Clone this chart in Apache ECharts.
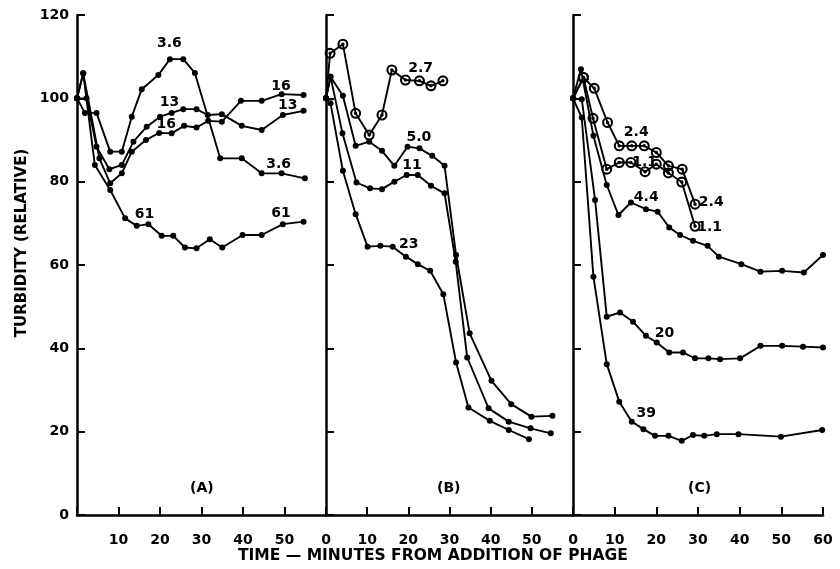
<!DOCTYPE html>
<html>
<head>
<meta charset="utf-8">
<script src="https://cdn.jsdelivr.net/npm/echarts@6/dist/echarts.min.js"></script>
<style>
    html, body { margin: 0; padding: 0; background: #fff; }
    #chart { width: 840px; height: 569px; }
</style>
</head>
<body>
<div id="chart"></div>
<script>
// 数据 [分钟, 浊度]
// (A)
const a36 = [[0,100],[1.9,96.5],[4.7,96.5],[8,87.2],[10.8,87.2],[13.2,95.6],[15.6,102.2],[19.6,105.6],[22.4,109.4],[25.6,109.4],[28.4,106.1],[34.5,85.6],[39.7,85.6],[44.5,82],[49.3,82],[54.9,80.8]];
const a13 = [[0,100],[2.3,100],[4.7,88.4],[7.8,83],[10.8,84],[13.6,89.6],[16.8,93.2],[20,95.6],[22.8,96.5],[25.6,97.4],[28.8,97.4],[31.5,96],[34.9,96.2],[39.7,93.4],[44.5,92.4],[49.6,96],[54.6,97]];
const a16 = [[0,100],[1.5,106],[5.4,85.6],[8,79.6],[10.8,82],[13.2,87.2],[16.6,90],[19.8,91.7],[22.8,91.6],[25.8,93.4],[28.8,93],[31.6,94.6],[34.9,94.4],[39.5,99.4],[44.5,99.4],[49.3,101],[54.6,100.8]];
const a61 = [[0,100],[1.5,106],[4.3,84],[8,78],[11.6,71.2],[14.4,69.4],[17.2,69.8],[20.4,67],[23.2,67],[26,64.2],[28.8,64],[32,66.2],[35,64.2],[39.9,67.2],[44.5,67.2],[49.6,69.8],[54.6,70.4]];
// (B)
const b27 = [[0,100],[1,110.8],[4.1,113],[7.2,96.4],[10.5,91.2],[13.6,96],[16,106.8],[19.3,104.4],[22.7,104.2],[25.5,103],[28.4,104.2]];
const b50 = [[0,100],[1.1,105.2],[4.1,100.6],[7.2,88.6],[10.5,89.6],[13.6,87.4],[16.6,83.8],[19.8,88.4],[22.7,88],[25.8,86.2],[28.8,83.8],[31.6,62.4],[34.9,43.6],[40.2,32.2],[45,26.6],[49.9,23.6],[55,23.8]];
const b11 = [[0,100],[1.1,105.2],[4,91.6],[7.4,79.8],[10.7,78.4],[13.6,78.2],[16.6,80],[19.6,81.6],[22.3,81.6],[25.5,79],[28.8,77.2],[31.5,60.8],[34.3,37.8],[39.5,25.6],[44.4,22.4],[49.7,20.8],[54.6,19.6]];
const b23 = [[0,100],[1.1,98.8],[4.1,82.6],[7.2,72.2],[10.1,64.4],[13.2,64.6],[16.2,64.4],[19.4,62],[22.3,60.2],[25.3,58.6],[28.5,53],[31.6,36.6],[34.6,25.8],[39.8,22.6],[44.4,20.4],[49.3,18.2]];
// (C)
const c24 = [[0,100],[2.5,105],[5.1,102.4],[8.3,94.2],[11.1,88.6],[14.1,88.6],[17.1,88.6],[20,87],[22.9,83.8],[26.2,83],[29.3,74.6]];
const c11 = [[0,100],[2.5,105],[4.8,95.2],[8.1,83],[11.1,84.6],[13.9,84.6],[17.3,82.4],[20,84.2],[22.9,82.1],[26.1,79.9],[29.3,69.3]];
const c44 = [[0,100],[1.9,107],[4.9,91],[8.1,79.2],[10.9,72],[13.9,75],[17.5,73.4],[20.3,72.8],[23.1,69],[25.7,67.2],[28.8,65.8],[32.3,64.6],[35,62],[40.4,60.2],[45,58.4],[50.2,58.6],[55.4,58.2],[60,62.4]];
const c20 = [[0,100],[2.1,99.8],[5.3,75.6],[8.1,47.6],[11.3,48.6],[14.4,46.4],[17.5,43],[20.1,41.4],[23.1,39],[26.4,39],[29.3,37.6],[32.5,37.6],[35.3,37.4],[40.1,37.6],[45,40.6],[50.2,40.6],[55.2,40.4],[60,40.2]];
const c39 = [[0,100],[2.1,95.4],[4.9,57.2],[8.1,36.2],[11.1,27.2],[14.1,22.4],[16.9,20.6],[19.7,19],[22.9,19],[26.1,17.8],[28.8,19.2],[31.5,19],[34.5,19.4],[39.7,19.4],[49.9,18.8],[59.8,20.4]];

// 曲线标注 [面板, 文字, 分钟, 浊度]
const curveLabels = [
    [0,'3.6',22.4,113],[0,'13',22.4,99],[0,'16',21.6,93.6],[0,'61',16.4,72],
    [0,'16',49.3,102.8],[0,'13',50.9,98.2],[0,'3.6',48.7,84],[0,'61',49.3,72.2],
    [1,'2.7',23.1,107],[1,'5.0',22.7,90.4],[1,'11',21,83.8],[1,'23',20.2,64.8],
    [2,'2.4',15.3,91.6],[2,'1.1',17.3,84.4],[2,'4.4',17.7,76],[2,'2.4',33.3,74.8],
    [2,'1.1',32.9,69],[2,'20',22.1,43.4],[2,'39',17.7,24.2]
];
const xTicks = [0, 10, 20, 30, 40, 50, 60];
const yTicks = [0, 20, 40, 60, 80, 100, 120];
const panelNames = ['(A)', '(B)', '(C)'];

const ink = '#000';
const font = 'DejaVu Sans';
// 带中心点的空心圆
const ringPath = 'path://M0,-5A5,5 0 1,1 0,5A5,5 0 1,1 0,-5ZM0,-3.1A3.1,3.1 0 1,0 0,3.1A3.1,3.1 0 1,0 0,-3.1ZM0,-1.6A1.6,1.6 0 1,1 0,1.6A1.6,1.6 0 1,1 0,-1.6Z';

const grids = [
    { left: 77, top: 15, width: 249, height: 500 },
    { left: 326, top: 15, width: 247, height: 500 },
    { left: 573, top: 15, width: 250, height: 500 }
];

function makeX(i) {
    return {
        type: 'value', gridIndex: i, min: xTicks[0], max: xTicks[xTicks.length - 1], interval: 10,
        axisLine: { lineStyle: { color: ink, width: 2.5 } },
        axisTick: { inside: true, length: 8, lineStyle: { color: ink, width: 2 } },
        splitLine: { show: false },
        axisLabel: {
            color: ink, fontFamily: font, fontWeight: 'bold', fontSize: 14, margin: 18,
            formatter: function (v) {
                if (i === 0 && (v === 0 || v === 60)) return '';
                if (i === 1 && v === 60) return '';
                return v;
            }
        }
    };
}
function makeY(i) {
    return {
        type: 'value', gridIndex: i, min: yTicks[0], max: yTicks[yTicks.length - 1], interval: 20,
        axisLine: { show: true, lineStyle: { color: ink, width: 2.5 } },
        axisTick: { show: true, inside: true, length: 8, lineStyle: { color: ink, width: 2 } },
        splitLine: { show: false },
        axisLabel: { show: i === 0, color: ink, fontFamily: font, fontWeight: 'bold', fontSize: 14, margin: 8 }
    };
}
function line(data, i, open) {
    // 空心圆曲线的起点仍是实心点
    const items = data.map((d, k) => (open && k === 0) ? { value: d, symbol: 'circle', symbolSize: 6 } : d);
    return {
        type: 'line', xAxisIndex: i, yAxisIndex: i, data: items,
        symbol: open ? ringPath : 'circle', symbolSize: open ? 11 : 6,
        showSymbol: true, animation: false, silent: true,
        lineStyle: { color: ink, width: 1.9 },
        itemStyle: { color: ink }
    };
}
function labelSeries(i) {
    return {
        type: 'scatter', xAxisIndex: i, yAxisIndex: i, symbol: 'circle', symbolSize: 1, silent: true,
        itemStyle: { color: '#fff', opacity: 0 }, animation: false,
        label: {
            show: true, position: [0, 0], align: 'center', verticalAlign: 'middle', formatter: '{b}',
            color: ink, opacity: 1, fontFamily: font, fontWeight: 'bold', fontSize: 14
        },
        data: curveLabels.filter(d => d[0] === i).map(d => ({ name: d[1], value: [d[2], d[3]] }))
    };
}

let myChart = echarts.init(document.getElementById('chart'), null, { renderer: 'canvas' });
myChart.setOption({
    backgroundColor: '#fff',
    animation: false,
    grid: grids,
    xAxis: [makeX(0), makeX(1), makeX(2)],
    yAxis: [makeY(0), makeY(1), makeY(2)],
    series: [
        line(a36, 0), line(a13, 0), line(a16, 0), line(a61, 0),
        line(b27, 1, true), line(b50, 1), line(b11, 1), line(b23, 1),
        line(c24, 2, true), line(c11, 2, true), line(c44, 2), line(c20, 2), line(c39, 2),
        labelSeries(0), labelSeries(1), labelSeries(2)
    ],
    graphic: [
        { type: 'text', left: 190, top: 481, style: { text: panelNames[0], fill: ink, font: 'bold 14px "DejaVu Sans"' } },
        { type: 'text', left: 437, top: 481, style: { text: panelNames[1], fill: ink, font: 'bold 14px "DejaVu Sans"' } },
        { type: 'text', left: 688, top: 481, style: { text: panelNames[2], fill: ink, font: 'bold 14px "DejaVu Sans"' } },
        { type: 'text', left: 238, top: 548, style: { text: 'TIME — MINUTES FROM ADDITION OF PHAGE', fill: ink, font: 'bold 15.5px "DejaVu Sans"' } },
        {
            type: 'text', x: 22, y: 243, rotation: Math.PI / 2,
            style: { text: 'TURBIDITY (RELATIVE)', fill: ink, font: 'bold 15px "DejaVu Sans"', align: 'center', verticalAlign: 'middle' }
        }
    ]
});
</script>
</body>
</html>
